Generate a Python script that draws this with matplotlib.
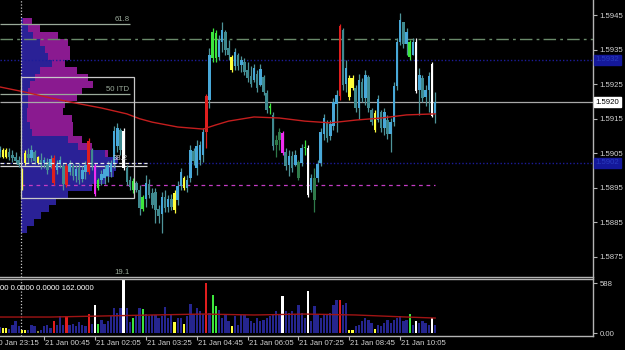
"""
plot.py  --  GBP 5-minute chart with volume profile and volume pane
Recreates the MT4-style screenshot: candles, session profile, fib lines,
moving averages and a coloured volume histogram. Saves out.png.
"""

import matplotlib

matplotlib.use("Agg")
import matplotlib.pyplot as plt
import matplotlib.transforms as mtransforms
import numpy as np
from matplotlib.patches import Rectangle

plt.rcParams["font.family"] = ["Liberation Sans", "DejaVu Sans"]

# prices are stored as pips above BASE
BASE = 1.5900
FIRST_BAR = 2

opens = [
    5.4, 5.9, 3.9, 5.4, 4.5, 3.9, 3.0, -0.4, 2.2, 4.8,
    3.6, 5.4, 3.9, 3.0, 2.2, 2.5, 1.3, 3.6, 0.2, 1.9,
    1.3, 1.3, -0.4, 1.3, -1.6, 0.7, -2.4, -0.4, -0.4, 5.9,
    1.3, -5.0, -2.7, -2.2, -1.6, -0.4, 1.9, 7.1, 11.7, 11.4,
    0.7, -2.7, -5.6, -3.6, -5.6, -11.1, -8.2, -3.9, -6.5, -6.2,
    -11.1, -12.6, -7.7, -10.5, -8.2, -11.4, -8.5, -4.5, -2.2, -5.0,
    -2.2, 5.7, 0.7, 3.0, 4.5, 11.2, 20.4, 32.6, 39.8, 32.9,
    37.2, 40.1, 35.4, 32.9, 30.2, 33.4, 30.5, 31.4, 29.1, 27.4,
    26.2, 27.9, 24.7, 27.1, 22.4, 18.1, 16.1, 7.4, 8.8, 10.9,
    5.4, 1.6, 4.2, 1.6, 2.5, 2.2, 6.5, 6.5, -5.6, -2.2,
    -2.2, 2.2, 10.6, 14.0, 10.0, 12.9, 19.2, 21.6, 40.7, 25.0,
    26.8, 23.9, 23.9, 18.1, 25.6, 21.0, 27.1, 17.5, 16.6, 14.6,
    16.9, 12.3, 14.6, 10.6, 14.0, 24.5, 37.2, 43.0, 36.6, 37.2,
    33.4, 37.2, 23.3, 26.8, 21.3, 23.3, 30.8, 16.4,
]
highs = [
    7.1, 6.5, 6.5, 6.5, 5.9, 5.4, 4.2, 0.7, 5.9, 6.5,
    7.4, 5.9, 4.2, 5.1, 3.9, 3.6, 4.5, 4.5, 3.0, 4.2,
    2.2, 2.2, 3.0, 2.2, 1.6, 2.2, 1.3, 2.8, 9.4, 6.5,
    2.2, -2.2, 0.2, 1.6, 2.8, 3.0, 12.9, 13.8, 12.3, 12.3,
    1.6, -1.6, -2.2, -3.0, -4.2, -7.1, -1.3, -2.4, -5.0, -5.0,
    -10.0, -6.2, -5.6, -7.1, -6.8, -5.6, -3.0, 0.7, -1.6, -1.3,
    7.4, 6.5, 8.8, 8.5, 12.3, 22.1, 35.4, 41.2, 40.7, 39.2,
    43.0, 40.7, 37.8, 33.4, 35.4, 34.0, 33.1, 32.6, 31.4, 30.2,
    30.8, 29.1, 30.8, 27.6, 23.3, 19.5, 16.9, 10.3, 12.3, 11.4,
    6.5, 5.9, 5.7, 5.9, 3.0, 7.7, 8.8, 7.4, -1.0, 0.7,
    3.0, 12.3, 16.4, 14.6, 14.6, 21.0, 23.3, 42.4, 41.2, 32.0,
    27.6, 27.6, 24.7, 27.9, 26.8, 29.1, 27.6, 18.1, 17.5, 21.9,
    17.5, 18.1, 16.1, 15.2, 25.6, 38.3, 45.6, 43.0, 41.2, 37.8,
    38.3, 38.3, 29.7, 27.6, 24.7, 28.5, 31.4, 22.7,
]
lows = [
    3.9, 3.6, 3.6, 3.0, 2.5, 1.9, 1.0, -5.6, 1.6, 2.2,
    2.5, 1.9, 1.9, 0.4, 0.7, -1.0, 0.7, -4.2, -1.0, 0.7,
    -5.6, -4.8, -1.3, -2.7, -3.3, -3.9, -3.3, -2.4, -1.0, 0.2,
    -7.4, -5.6, -4.2, -3.9, -3.3, -1.9, 0.7, 5.4, 4.5, 0.2,
    -4.2, -5.6, -6.5, -6.2, -12.9, -11.7, -10.5, -8.0, -10.8, -15.2,
    -15.2, -18.1, -12.0, -12.0, -11.4, -12.3, -10.0, -5.6, -5.6, -6.2,
    -3.3, 1.6, -1.3, 1.6, 2.5, 6.5, 18.1, 31.4, 31.4, 32.0,
    34.3, 33.4, 32.0, 28.5, 29.1, 29.1, 28.5, 27.6, 25.6, 24.2,
    25.6, 22.7, 24.5, 21.9, 16.6, 16.4, 5.9, 3.9, 5.9, 4.5,
    0.2, -1.6, -0.4, 1.3, -2.7, 1.3, 4.5, -7.7, -6.2, -12.0,
    -3.3, 1.3, 8.8, 8.3, 8.8, 11.7, 11.2, 20.4, 23.3, 22.7,
    20.4, 23.3, 16.9, 14.9, 19.8, 19.0, 16.9, 13.2, 11.2, 14.0,
    11.2, 10.3, 9.1, 5.4, 12.9, 23.3, 36.3, 35.4, 33.4, 32.0,
    33.4, 22.4, 16.1, 19.8, 18.7, 16.9, 15.5, 13.8,
]
closes = [
    6.2, 3.9, 5.9, 3.9, 3.6, 2.8, 1.6, -5.0, 5.1, 3.6,
    5.9, 2.8, 2.2, 1.6, 3.0, 0.2, 3.3, -3.6, 1.9, 3.0,
    -3.9, -4.2, 1.9, -1.6, 0.4, -2.7, 0.2, 1.6, 8.5, 1.3,
    -6.8, -2.7, -1.0, 0.4, 1.6, 2.2, 11.4, 12.3, 5.9, 0.7,
    -3.3, -4.8, -3.0, -5.6, -10.8, -7.7, -3.6, -7.1, -10.0, -11.4,
    -13.2, -7.7, -10.8, -8.2, -10.5, -6.5, -4.5, -0.4, -5.0, -2.7,
    5.9, 2.8, 7.1, 7.4, 11.2, 21.6, 33.4, 40.1, 32.6, 37.8,
    40.7, 34.9, 33.4, 29.1, 34.3, 30.2, 32.0, 28.5, 26.8, 25.0,
    29.7, 23.9, 29.4, 22.7, 17.5, 18.7, 7.1, 8.8, 11.2, 5.1,
    1.3, 4.2, 0.7, 4.5, -2.2, 6.5, 6.8, -7.1, -2.2, -8.5,
    1.9, 11.2, 15.2, 9.4, 13.5, 19.8, 21.9, 41.8, 24.7, 29.7,
    21.3, 26.8, 18.1, 26.2, 21.0, 27.6, 18.1, 14.0, 11.7, 20.7,
    12.3, 16.9, 10.6, 14.0, 24.5, 37.2, 43.6, 36.6, 40.1, 32.9,
    37.2, 23.0, 27.6, 21.0, 23.3, 27.4, 15.8, 19.8,
]
volumes = [
    71, 59, 59, 47, 94, 141, 82, 35, 35, 35,
    94, 82, 24, 35, 82, 94, 59, 141, 94, 200,
    94, 200, 94, 106, 82, 129, 94, 82, 223, 106,
    329, 106, 153, 106, 141, 200, 294, 235, 294, 623,
    294, 129, 176, 212, 294, 282, 223, 200, 212, 212,
    176, 200, 306, 176, 212, 129, 176, 176, 106, 200,
    341, 223, 294, 259, 223, 588, 235, 447, 318, 270,
    176, 223, 141, 82, 200, 94, 212, 212, 176, 141,
    118, 176, 141, 153, 176, 200, 223, 259, 223, 435,
    259, 235, 259, 223, 329, 235, 176, 494, 141, 318,
    212, 176, 212, 223, 235, 329, 388, 388, 329, 353,
    35, 35, 82, 94, 141, 176, 153, 118, 47, 94,
    82, 118, 153, 118, 153, 176, 200, 141, 153, 223,
    94, 141, 118, 141, 118, 94, 176, 94,
]

# bars flagged by the volume indicator (bar index lists)
price_signals = {
    "yellow": [3, 4, 9, 10, 14, 57, 60, 75, 112, 113, 120],
    "red": [19, 23, 30, 67, 109],
    "green": [33, 44, 47, 69, 70, 87, 98, 131],
    "white": [41, 99, 133, 138],
    "magenta": [32, 91],
    "darkgreen": [89, 90, 96, 101],
}
volume_signals = {
    "yellow": [3, 4, 9, 10, 57, 60, 75, 112, 113, 120],
    "olive": [14],
    "red": [19, 23, 30, 67, 109],
    "green": [33, 44, 47, 69, 70, 131],
    "white": [32, 41, 91, 99, 133, 138],
}

price_ma_bars = [2, 10, 18, 26, 34, 42, 46, 50, 58, 66, 70, 74, 82, 90, 98, 106, 114, 122, 130, 139]
price_ma = [24.2, 22.7, 21.0, 19.5, 18.1, 16.4, 15.0, 14.0, 12.6, 12.0,
            13.2, 14.3, 15.5, 15.2, 14.3, 13.8, 14.6, 15.2, 16.1, 16.4]
volume_ma_bars = [2, 18, 34, 50, 66, 82, 98, 114, 122, 130, 139]
volume_ma = [188, 188, 200, 212, 223, 212, 223, 212, 200, 188, 176]

# session volume profile, bins of 2 pips (bottom edge), widths in bars
SESSION_START = 8.7
profile_levels = [42, 40, 38, 36, 34, 32, 30, 28, 26, 24, 22, 20, 18, 16, 14, 12,
                  10, 8, 6, 4, 2, 0, -2, -4, -6, -8, -10, -12, -14, -16, -18]
profile_blue = [0.6, 2.2, 3.8, 6.0, 7.5, 8.5, 9.8, 6.0, 4.4, 2.8, 2.2, 2.2, 2.2, 1.9, 1.9, 2.8,
                3.5, 14.8, 17.9, 26.4, 30.5, 29.9, 29.3, 26.4, 22.3, 14.8, 11.0, 8.8, 6.3, 4.1, 1.9]
profile_purple = [2.8, 3.8, 7.9, 8.8, 7.9, 6.9, 4.1, 11.6, 16.7, 19.8, 17.0, 15.4, 11.6, 11.3, 14.2, 13.5,
                  12.9, 4.4, 4.4, 0.9, 0, 0, 0, 0, 0, 0, 0, 0, 0, 0, 0]

# fibonacci levels of the range (pips) and drawn objects
fib_levels = {"61.8": 42.4, "50 ITD": 22.1, "38.2": 2.2, "19.1": -31.1}
box_bars = (8.7, 44.3)
box_pips = (-8.0, 27.1)
dashdot_level = 38.1
navy_levels = [32.0, 2.2]
magenta_level = -4.2
bid = 19.8

price_ticks = [1.5875, 1.5885, 1.5895, 1.5905, 1.5915, 1.5925, 1.5935, 1.5945]
time_tick_bars = [0, 16, 32, 48, 64, 80, 96, 112, 128]
time_labels = ["20 Jan 23:15", "21 Jan 00:45", "21 Jan 02:05", "21 Jan 03:25", "21 Jan 04:45",
               "21 Jan 06:05", "21 Jan 07:25", "21 Jan 08:45", "21 Jan 10:05"]

SIGNAL_COLORS = {
    "yellow": "#ffff3c",
    "olive": "#8c8c3c",
    "red": "#e01e1e",
    "green": "#3ce63c",
    "white": "#ffffff",
    "magenta": "#f02cf0",
    "darkgreen": "#2f7a4a",
}
UP, DOWN, WICK = "#48a8d8", "#3f8a90", "#4f9499"
VOL_COLOR = "#25258f"
GRID_GRAY = "#b4b4b4"
TEXT = "#d2d2d2"
FS = 5.6


def to_price(pips):
    return BASE + np.asarray(pips, dtype=float) / 10000.0


def lookup(signals):
    out = {}
    for name, bars in signals.items():
        for b in bars:
            out[b] = name
    return out


def draw_price(ax):
    bars = np.arange(FIRST_BAR, FIRST_BAR + len(opens))

    # session profile behind everything
    lv = to_price(profile_levels)
    ax.barh(lv, profile_blue, height=0.0002, left=SESSION_START, align="edge",
            color="#2a2196", linewidth=0, zorder=1)
    ax.barh(lv, profile_purple, height=0.0002, left=SESSION_START + np.asarray(profile_blue),
            align="edge", color="#8a1a90", linewidth=0, zorder=1)

    # horizontal objects
    x0, x1 = ax.get_xlim()
    ax.hlines(to_price(dashdot_level), x0, x1, color="#6a8a6a", lw=1,
              linestyles=[(0, (9, 3, 2, 3))], zorder=2)
    ax.hlines(to_price(navy_levels), x0, x1, color="#1c1c9a", lw=1,
              linestyles=[(0, (1, 1.5))], zorder=2)
    ax.hlines(to_price(bid), x0, x1, color="#a8a8a8", lw=0.9, zorder=2)
    ax.hlines(to_price(magenta_level), SESSION_START, bars[-1], color="#c43cc4", lw=0.9,
              linestyles=[(0, (3, 3))], zorder=2)
    for name in ("61.8", "50 ITD"):
        ax.hlines(to_price(fib_levels[name]), x0, 43.0, color="#9aaa9a", lw=0.9, zorder=2)
    ax.hlines(to_price(fib_levels["38.2"] - 0.9), x0, 48.3, color="#d8d8d8", lw=0.9, zorder=2)
    ax.hlines(to_price(fib_levels["38.2"]), x0, 48.3, color="#e8e8e8", lw=0.9,
              linestyles=[(0, (3, 2))], zorder=5)
    ax.add_patch(Rectangle((box_bars[0], to_price(box_pips[0])), box_bars[1] - box_bars[0],
                           (box_pips[1] - box_pips[0]) / 10000.0, fill=False,
                           edgecolor="#c8c8c8", lw=0.9, zorder=5))
    ax.axvline(SESSION_START, color="#c8c8c8", lw=0.9, ls=(0, (1, 1.5)), zorder=2)

    ax.text(42.8, to_price(fib_levels["61.8"] + 0.4), "61.8", color="#9aaa9a",
            fontsize=FS, ha="right", va="bottom", zorder=6)
    ax.text(42.8, to_price(fib_levels["50 ITD"] + 0.4), "50 ITD", color="#9aaa9a",
            fontsize=FS, ha="right", va="bottom", zorder=6)
    ax.text(42.4, to_price(fib_levels["38.2"] + 0.2), "38.2", color="#c8c8c8",
            fontsize=FS, ha="right", va="bottom", zorder=6)
    ax.text(42.8, to_price(fib_levels["19.1"] + 0.6), "19.1", color="#9aaa9a",
            fontsize=FS, ha="right", va="bottom", zorder=6)

    # candles
    sig = lookup(price_signals)
    o, h, l, c = (to_price(v) for v in (opens, highs, lows, closes))
    body_colors, wick_colors = [], []
    for b, op, cl in zip(bars, o, c):
        if b in sig:
            col = SIGNAL_COLORS[sig[b]]
            body_colors.append(col)
            wick_colors.append(col)
        else:
            body_colors.append(UP if cl >= op else DOWN)
            wick_colors.append(WICK)
    ax.vlines(bars, l, h, colors=wick_colors, lw=0.9, zorder=3)
    ax.bar(bars, c - o, bottom=o, width=0.8, color=body_colors, linewidth=0, zorder=4)

    ax.plot(price_ma_bars, to_price(price_ma), color="#c41e1e", lw=1.0, zorder=4.5)

    # right price scale
    ax.set_yticks(price_ticks)
    ax.set_yticklabels([f"{p:.4f}" for p in price_ticks])
    trans = mtransforms.blended_transform_factory(ax.transAxes, ax.transData)
    ax.text(1.004, to_price(bid), f"{to_price(bid):.4f}", transform=trans, fontsize=FS,
            color="black", va="center", ha="left", clip_on=False,
            bbox=dict(boxstyle="square,pad=0.2", fc="white", ec="white"))
    for lvl in navy_levels:
        ax.text(1.004, to_price(lvl), f"{to_price(lvl):.4f}", transform=trans, fontsize=FS,
                color="#2a3cc0", va="center", ha="left", clip_on=False,
                bbox=dict(boxstyle="square,pad=0.2", fc="#14189a", ec="#14189a"))


def draw_volume(vax):
    bars = np.arange(FIRST_BAR, FIRST_BAR + len(volumes))
    sig = lookup(volume_signals)
    colors = [SIGNAL_COLORS[sig[b]] if b in sig else VOL_COLOR for b in bars]
    vax.bar(bars, volumes, width=0.72, color=colors, linewidth=0, zorder=2)
    vax.plot(volume_ma_bars, volume_ma, color="#a01414", lw=1.0, zorder=3)
    vax.axvline(SESSION_START, color="#c8c8c8", lw=0.9, ls=(0, (1, 1.5)), zorder=1)
    vax.text(0.0, 0.82, "00 0.0000 0.0000 162.0000", transform=vax.transAxes,
             color="white", fontsize=FS, ha="left", va="center")

    vax.set_yticks([0, 588])
    vax.set_yticklabels(["0.00", "588"])

    x0, x1 = vax.get_xlim()
    vax.set_xticks([b for b in time_tick_bars if x0 <= b <= x1])
    vax.set_xticklabels([])
    trans = mtransforms.blended_transform_factory(vax.transData, vax.transAxes)
    for b, lab in zip(time_tick_bars, time_labels):
        vax.text(b + 0.3, -0.13, lab, transform=trans, color=TEXT, fontsize=FS,
                 ha="left", va="center", clip_on=False)


def style(axis, top=True):
    axis.set_facecolor("black")
    axis.spines["left"].set_visible(False)
    axis.spines["top"].set_visible(top)
    for s in ("right", "bottom", "top"):
        axis.spines[s].set_color(GRID_GRAY)
        axis.spines[s].set_linewidth(1.0)
    axis.yaxis.tick_right()
    axis.tick_params(axis="y", colors=GRID_GRAY, labelcolor=TEXT, labelsize=FS,
                     length=3, width=0.8, pad=1.5)
    axis.tick_params(axis="x", colors=GRID_GRAY, length=3, width=0.8)


def main():
    W, H = 625, 350
    fig = plt.figure(figsize=(W / 100, H / 100), dpi=100, facecolor="black")
    ax = fig.add_axes([0, 1 - 276.5 / H, 593 / W, 276.5 / H])
    vax = fig.add_axes([0, 1 - 336 / H, 593 / W, 57.5 / H])

    xlim = (6.7 / 3.179, (593 + 6.7) / 3.179)
    for a in (ax, vax):
        a.set_xlim(*xlim)
    ax.set_ylim(BASE - 30.65 / 10000, BASE + 49.34 / 10000)
    vax.set_ylim(-35, 641)

    style(ax, top=False)
    style(vax)
    ax.set_xticks([])

    draw_price(ax)
    draw_volume(vax)

    fig.savefig("out.png", dpi=100, facecolor="black")
    plt.close(fig)


if __name__ == "__main__":
    main()
